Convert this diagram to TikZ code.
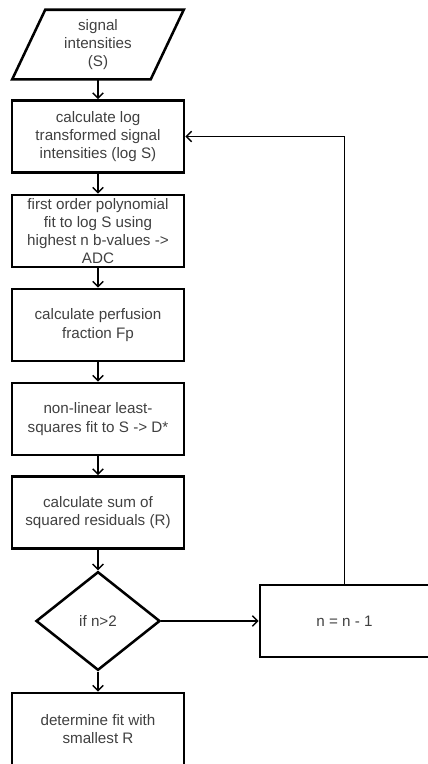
\documentclass[tikz,border=0pt]{standalone}
\usepackage{fontspec}
\setmainfont{Liberation Sans}
\usetikzlibrary{arrows.meta}
\usetikzlibrary{calc}
\usetikzlibrary{shapes.geometric}

\definecolor{textgrey}{RGB}{64,64,64}

\begin{document}
\begin{tikzpicture}[x=0.75pt,y=-0.75pt,
    every node/.style={font=\fontsize{11.4}{13.6}\selectfont,text=textgrey,align=center},
    stepbox/.style={draw=black,line width=1.9pt,rectangle,minimum width=129pt,minimum height=54pt,inner sep=1pt},
    decision/.style={draw=black,line width=1.9pt,diamond,minimum width=93pt,minimum height=74pt,inner sep=0pt},
    flowline/.style={line width=1.1pt,-{Straight Barb[length=4pt,width=8pt]}}]

  \useasboundingbox (0,0) rectangle (428,764);

  % input
  \node [minimum width=103.5pt,minimum height=51.75pt,inner sep=0pt] (sig) at (98,44.5) {signal\\intensities\\(S)};
  \draw [line width=1.9pt]
    ($(sig.north west)+(16.5,0)$) -- ($(sig.north east)+(16.5,0)$) --
    ($(sig.south east)+(-16.5,0)$) -- ($(sig.south west)+(-16.5,0)$) -- cycle;

  \node [stepbox] (calc_log) at (98,136.5) {calculate log\\transformed signal\\intensities (log S)};
  \node [stepbox] (poly_fit) at (98,231) {first order polynomial\\fit to log S using\\highest n b-values ->\\ADC};
  \node [stepbox] (perf_frac) at (98,325) {calculate perfusion\\fraction Fp};
  \node [stepbox] (nonlin_fit) at (98,419) {non-linear least-\\squares fit to S -> D*};
  \node [stepbox] (sum_res) at (98,512.5) {calculate sum of\\squared residuals (R)};
  \node [decision] (if_n) at (98,621) {if n>2};
  \node [stepbox] (best_fit) at (98,729) {determine fit with\\smallest R};
  \node [stepbox,minimum width=126.75pt] (n_dec) at (344.5,621) {n = n - 1};

  \path [draw,flowline]
    (sig) edge (calc_log)
    (calc_log) edge (poly_fit)
    (poly_fit) edge (perf_frac)
    (perf_frac) edge (nonlin_fit)
    (nonlin_fit) edge (sum_res)
    (sum_res) edge (if_n)
    (if_n) edge (best_fit)
    (if_n) edge (n_dec);

  % loop back
  \draw [flowline] (n_dec.north) |- (calc_log.east);

\end{tikzpicture}
\end{document}
